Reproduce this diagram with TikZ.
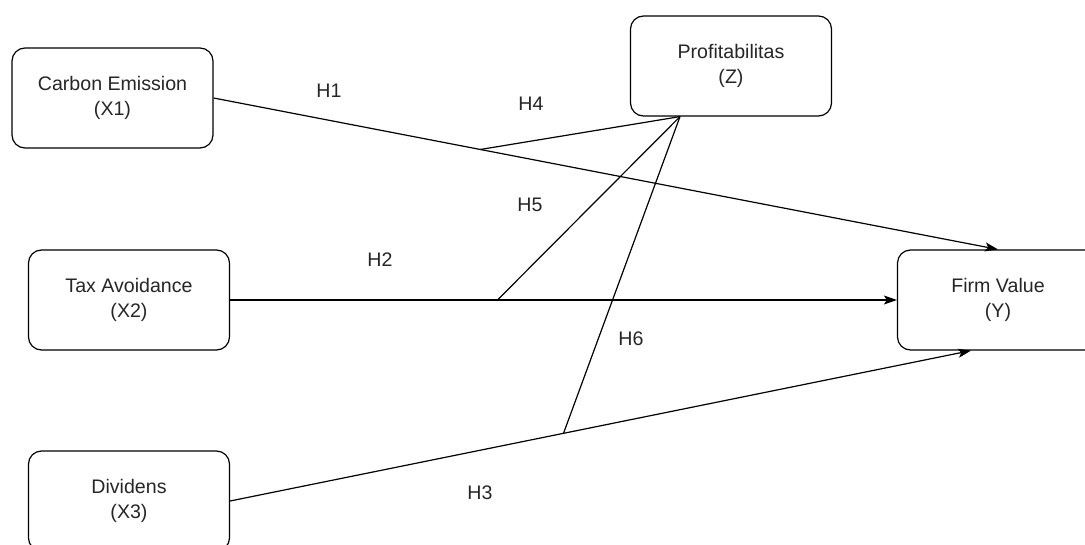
\documentclass[tikz,border=0pt]{standalone}
\usepackage{fontspec}
\setmainfont{Liberation Sans}
\usetikzlibrary{arrows.meta,calc}
\begin{document}
\begin{tikzpicture}[x=1pt,y=-1pt,
  box/.style={draw=black,line width=1.2pt,rounded corners=13pt,minimum width=201pt,minimum height=100pt,
    align=center,inner sep=0pt,font=\fontsize{19.6}{24.5}\selectfont,text=black!85},
  conn/.style={draw=black,line width=1.2pt},
  arr/.style={conn,-{Stealth[length=13pt,width=9pt,inset=3pt]}},
  hlab/.style={font=\fontsize{19.6}{24}\selectfont,text=black!85,inner sep=0pt}]
\useasboundingbox (0,0) rectangle (1085,544);
\clip (0,0) rectangle (1085,544);
\fill[white] (0,0) rectangle (1085,544);
\node[box] (X1) at (112.5,98) {Carbon Emission\\(X1)};
\node[box] (Z) at (731,66) {Profitabilitas\\(Z)};
\node[box] (X2) at (129,300) {Tax Avoidance\\(X2)};
\node[box] (Y) at (998,300) {Firm Value\\(Y)};
\node[box] (X3) at (129,501) {Dividens\\(X3)};
\coordinate (y3) at ($(Y.south)+(-27,0)$);
\coordinate (zb) at ($(Z.south)+(-51,0)$);
\draw[arr] (X1.east) -- (Y.north);
\draw[arr] (X2.east) -- (Y.west);
\draw[arr] (X3.east) -- (y3);
\coordinate (p4) at ($(X1.east)!0.34!(Y.north)$);
\coordinate (p5) at ($(X2.east)!0.401!(Y.west)$);
\coordinate (p6) at ($(X3.east)!0.45!(y3)$);
\draw[conn] (zb) -- (p4);
\draw[conn] (zb) -- (p5);
\draw[conn] (zb) -- (p6);
\node[hlab] (h1) at (329,91) {H1};
\node[hlab] (h4) at (531,104) {H4};
\node[hlab] (h5) at (530,205) {H5};
\node[hlab] (h2) at (380,260) {H2};
\node[hlab] (h6) at (631,339) {H6};
\node[hlab] (h3) at (480,493) {H3};
\end{tikzpicture}
\end{document}
